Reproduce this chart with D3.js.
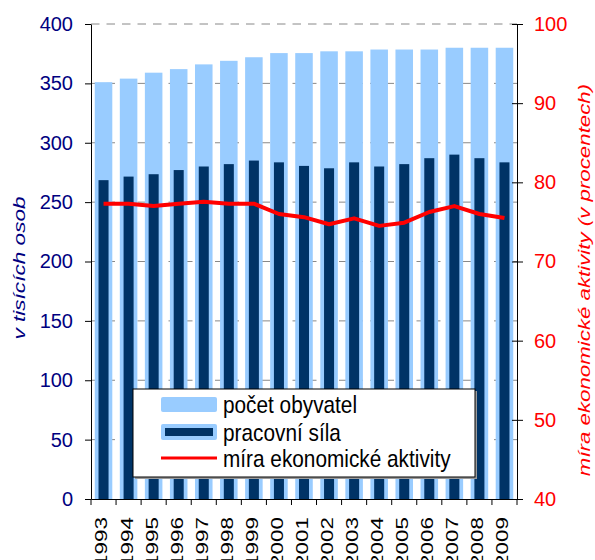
<!DOCTYPE html>
<html>
<head>
<meta charset="utf-8">
<title>Obyvatelstvo a pracovní síla</title>
<script src="https://cdn.jsdelivr.net/npm/d3@7"></script>
<style>
  body { margin: 0; background: #fff; }
  svg text { font-family: "Liberation Sans", Arial, sans-serif; }
</style>
</head>
<body>
<svg id="chart" width="595" height="560"></svg>
<script>
// data
const years = ["1993","1994","1995","1996","1997","1998","1999","2000","2001",
               "2002","2003","2004","2005","2006","2007","2008","2009"];
const population = [351, 354, 359, 362, 366, 369, 372, 375.5, 375.5,
                    377, 377, 378.5, 378.5, 378.5, 380, 380, 380];
const labourForce = [268.5, 271.5, 273.5, 277, 280, 282, 285, 283.5, 280.5,
                     278.5, 283.5, 280, 282, 287, 290, 287, 283.5];
const activityRate = [77.3, 77.3, 77.0, 77.3, 77.55, 77.3, 77.3, 76.0, 75.6,
                      74.7, 75.45, 74.5, 74.9, 76.25, 77.0, 76.0, 75.5];
const leftTicks = [0, 50, 100, 150, 200, 250, 300, 350, 400];
const rightTicks = [40, 50, 60, 70, 80, 90, 100];
const legendLabels = ["počet obyvatel", "pracovní síla", "míra ekonomické aktivity"];

const svg = d3.select("#chart");
const plotL = 91, plotR = 517, plotT = 24, plotB = 499;

const x = d3.scaleBand().domain(years).range([plotL, plotR]);
const y = d3.scaleLinear().domain([0, 400]).range([plotB, plotT]);
const y2 = d3.scaleLinear().domain([40, 100]).range([plotB, plotT]);

// gridlines
svg.append("g")
  .selectAll("line")
  .data(leftTicks.filter(d => d > 0))
  .join("line")
  .attr("x1", plotL).attr("x2", plotR)
  .attr("y1", d => y(d)).attr("y2", d => y(d))
  .attr("stroke", "#888")
  .attr("stroke-width", 1)
  .attr("stroke-dasharray", "8.5,7");

// bars
const bw = x.bandwidth();
svg.append("g")
  .selectAll("rect")
  .data(years)
  .join("rect")
  .attr("x", d => x(d) + bw * 0.15)
  .attr("width", bw * 0.7)
  .attr("y", (d, i) => y(population[i]))
  .attr("height", (d, i) => y(0) - y(population[i]))
  .attr("fill", "#99ccff");

svg.append("g")
  .selectAll("rect")
  .data(years)
  .join("rect")
  .attr("x", d => x(d) + bw * 0.3)
  .attr("width", bw * 0.4)
  .attr("y", (d, i) => y(labourForce[i]))
  .attr("height", (d, i) => y(0) - y(labourForce[i]))
  .attr("fill", "#003366");

// activity rate line
const line = d3.line()
  .x((d, i) => x(years[i]) + bw / 2)
  .y(d => y2(d));
svg.append("path")
  .datum(activityRate)
  .attr("d", line)
  .attr("fill", "none")
  .attr("stroke", "#ff0000")
  .attr("stroke-width", 4)
  .attr("stroke-linejoin", "round");

// left axis
const gl = svg.append("g")
  .attr("transform", `translate(${plotL},0)`)
  .call(d3.axisLeft(y).tickValues(leftTicks).tickSize(6).tickPadding(12).tickSizeOuter(0));
gl.select(".domain").attr("stroke", "#000");
gl.selectAll("text").attr("font-size", 20).attr("fill", "#000080");

// right axis
const gr = svg.append("g")
  .attr("transform", `translate(${plotR},0)`)
  .call(d3.axisRight(y2).tickValues(rightTicks).tickSize(6).tickPadding(11).tickSizeOuter(0));
gr.select(".domain").attr("stroke", "#000");
gr.selectAll(".tick line").attr("x1", -5);
gr.selectAll("text").attr("font-size", 20).attr("fill", "#ff0000");

// bottom axis, labels stretched along their length like the original
const gb = svg.append("g")
  .attr("transform", `translate(0,${plotB})`)
  .call(d3.axisBottom(x).tickSize(0).tickPadding(0).tickSizeOuter(0));
gb.select(".domain").attr("stroke", "#000");
gb.selectAll("text")
  .attr("font-size", 16.5)
  .attr("fill", "#000")
  .attr("text-anchor", "end")
  .attr("transform", "translate(-2,18) rotate(-90) scale(1.36,1)")
  .attr("x", 0).attr("y", 0).attr("dy", "0.36em");
gb.selectAll("line.sep")
  .data(years.map(d => x(d)).concat([x.range()[1]]))
  .join("line")
  .attr("class", "sep")
  .attr("x1", d => d).attr("x2", d => d)
  .attr("y1", 0).attr("y2", 6)
  .attr("stroke", "#000");

// axis titles
svg.append("text")
  .attr("transform", "translate(25,268) rotate(-90) scale(1.33,1)")
  .attr("text-anchor", "middle")
  .attr("font-size", 17)
  .attr("font-style", "italic")
  .attr("fill", "#000080")
  .text("v tisících osob");

svg.append("text")
  .attr("transform", "translate(590,280) rotate(-90) scale(1.35,1)")
  .attr("text-anchor", "middle")
  .attr("font-size", 16.5)
  .attr("font-style", "italic")
  .attr("fill", "#ff0000")
  .text("míra ekonomické aktivity (v procentech)");

// legend
const lg = svg.append("g");
lg.append("rect")
  .attr("x", 135).attr("y", 391).attr("width", 342).attr("height", 88)
  .attr("fill", "#9a9a9a");
lg.append("rect")
  .attr("x", 133).attr("y", 389).attr("width", 342).attr("height", 88)
  .attr("fill", "#fff").attr("stroke", "#000").attr("stroke-width", 1);

const rowY = [404, 432, 458];
lg.append("rect").attr("x", 161).attr("y", rowY[0] - 7).attr("width", 56).attr("height", 15)
  .attr("rx", 2).attr("fill", "#99ccff");
lg.append("rect").attr("x", 161).attr("y", rowY[1] - 8).attr("width", 56).attr("height", 16)
  .attr("rx", 2).attr("fill", "#99ccff");
lg.append("rect").attr("x", 165).attr("y", rowY[1] - 4).attr("width", 48).attr("height", 8)
  .attr("fill", "#003366");
lg.append("line").attr("x1", 161).attr("x2", 217).attr("y1", rowY[2]).attr("y2", rowY[2])
  .attr("stroke", "#ff0000").attr("stroke-width", 3);

lg.selectAll("text.lab")
  .data(legendLabels)
  .join("text")
  .attr("class", "lab")
  .attr("transform", (d, i) => `translate(223,${rowY[i]}) scale(1.04,1.22)`)
  .attr("dy", "0.35em")
  .attr("font-size", 20)
  .attr("fill", "#000")
  .text(d => d);
</script>
</body>
</html>
